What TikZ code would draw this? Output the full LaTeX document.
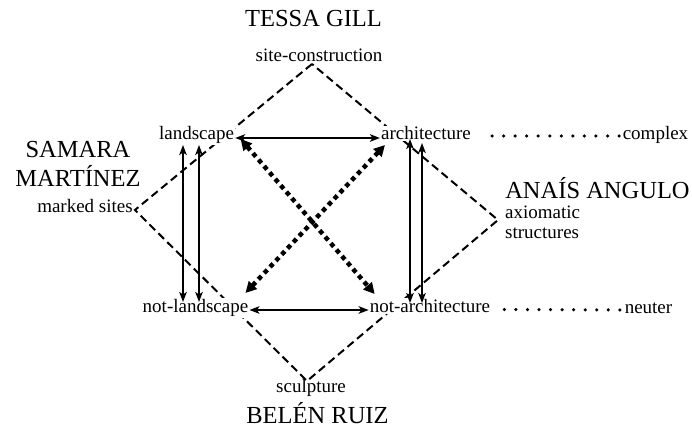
\documentclass[tikz,border=0pt]{standalone}
\usepackage{fontspec}
\setmainfont{Liberation Serif}
\usetikzlibrary{arrows.meta,calc,backgrounds}
\begin{document}
\begin{tikzpicture}[x=1pt,y=-1pt,
  lab/.style={font=\fontsize{19}{20}\selectfont, inner sep=1pt, anchor=base},
  knock/.style={lab, fill=white},
  bigname/.style={font=\fontsize{24.5}{29}\selectfont, inner sep=0pt, anchor=base, align=center},
  dashline/.style={dash pattern=on 8pt off 4.5pt, line width=2pt},
  arr/.style={{Stealth[length=10pt,width=7.5pt,inset=2.5pt]}-{Stealth[length=10pt,width=7.5pt,inset=2.5pt]}, line width=1.8pt},
  dotarr/.style={{Triangle[length=11pt,width=11pt]}-{Triangle[length=11pt,width=11pt]}, line width=4.5pt, dash pattern=on 4.5pt off 4pt},
  dotline/.style={line width=3.5pt, line cap=round, dash pattern=on 0pt off 11.55pt}
]
\useasboundingbox (0,0) rectangle (692,430);

% names
\node[bigname] (tessa) at (313.5,27) {TESSA GILL};
\node[bigname] (belen) at (317.5,423) {BELÉN RUIZ};
\node[bigname] (samara) at (78,187) {SAMARA\\MARTÍNEZ};
\node[bigname] (anais) at (597.5,198) {ANAÍS ANGULO};

% labels
\node[lab] (site) at (319,62) {site-construction};
\node[lab] (sculp) at (311,392) {sculpture};
\node[lab] (marked) at (85,212) {marked sites};
\node[lab, anchor=base west, align=left] (axiom) at (504,238) {axiomatic\\structures};
\node[knock] (land) at (196.5,140) {landscape};
\node[knock] (arch) at (426,140) {architecture};
\node[knock] (notland) at (195.5,312.5) {not-landscape};
\node[knock] (notarch) at (430,312.5) {not-architecture};
\node[lab] (complex) at (655.5,140) {complex};
\node[lab] (neuter) at (648.5,313) {neuter};

% diamond vertices
\coordinate (vt) at ($(site.base)+(-7,2)$);
\coordinate (vl) at ($(marked.base east)+(1,-2)$);
\coordinate (vb) at ($(sculp.base)+(-4,-11)$);
\coordinate (vr) at ($(axiom.base west)+(-6,-18)$);

\begin{scope}[on background layer]
  \draw[dashline] (vt) -- (vl) -- (vb) -- (vr) -- cycle;
\end{scope}

% horizontal arrows
\draw[arr] ($(land.base east)+(0,-2)$) -- ($(arch.base west)+(0,-2)$);
\draw[arr] ($(notland.base east)+(0,-2.5)$) -- ($(notarch.base west)+(0,-2.5)$);

% vertical arrows
\draw[arr] ($(land.base)+(-13.5,5)$) -- ($(land.base |- notland.base)+(-13.5,-10.5)$);
\draw[arr] ($(land.base)+(2.5,5)$) -- ($(land.base |- notland.base)+(2.5,-10.5)$);
\draw[arr] ($(arch.base)+(-16,-1)$) -- ($(arch.base |- notarch.base)+(-16,-9.5)$);
\draw[arr] ($(arch.base)+(-4,3)$) -- ($(arch.base |- notarch.base)+(-4,-9.5)$);

% dotted diagonals
\draw[dotarr] ($(land.base east)+(5.5,-1)$) -- ($(notarch.base west)+(6,-18.5)$);
\draw[dotarr] ($(notland.base east)+(-4,-19.5)$) -- ($(arch.base west)+(5,5)$);

% dotted leaders
\draw[dotline] ($(arch.base east)+(20,-4)$) -- ($(complex.base west)+(1.5,-4)$);
\draw[dotline] ($(notarch.base east)+(13,-3)$) -- ($(neuter.base west)+(-0.5,-3)$);
\end{tikzpicture}
\end{document}
